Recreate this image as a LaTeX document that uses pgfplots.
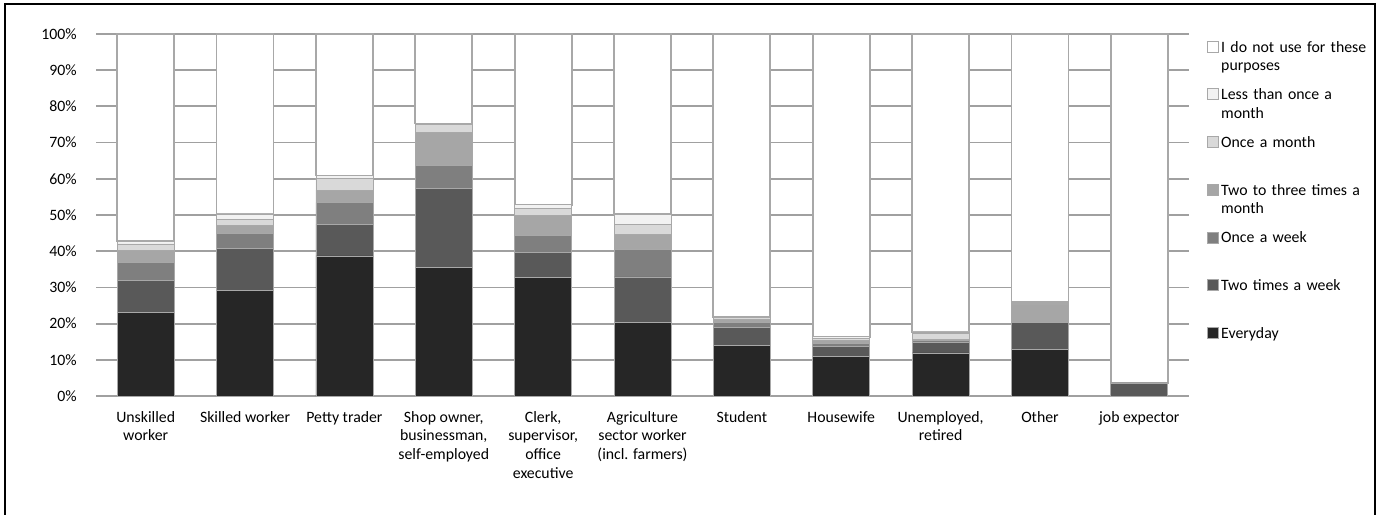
\documentclass[border=0pt]{standalone}
\usepackage{pgfplots}
\pgfplotsset{compat=1.18}
\usepackage{fontspec}
\setmainfont{Carlito}
\definecolor{cA}{HTML}{262626}
\definecolor{cB}{HTML}{595959}
\definecolor{cC}{HTML}{7F7F7F}
\definecolor{cD}{HTML}{A6A6A6}
\definecolor{cE}{HTML}{D9D9D9}
\definecolor{cF}{HTML}{F2F2F2}
\definecolor{bd}{HTML}{A8A8A8}
\definecolor{gridc}{HTML}{A0A0A0}
\newcommand\cf{\fontsize{7.9}{9.3}\selectfont}
\begin{document}
\begin{tikzpicture}
\useasboundingbox (-48pt,-59pt) rectangle (642pt,198pt);
\begin{axis}[
  at={(0pt,0pt)}, anchor=south west,
  scale only axis, width=546.5pt, height=181pt,
  ybar stacked, bar width=28.5pt,
  xmin=-0.5, xmax=10.5, ymin=0, ymax=100,
  xtick={0,1,2,3,4,5,6,7,8,9,10},
  xticklabels={{Unskilled\\worker},{Skilled worker},{Petty trader},{Shop owner,\\businessman,\\self-employed},{Clerk,\\supervisor,\\office\\executive},{Agriculture\\sector worker\\(incl. farmers)},Student,Housewife,{Unemployed,\\retired},Other,{job expector}},
  ytick={0,10,20,30,40,50,60,70,80,90,100},
  yticklabels={0\%,10\%,20\%,30\%,40\%,50\%,60\%,70\%,80\%,90\%,100\%},
  major tick length=0pt,
  axis line style={draw=none},
  ymajorgrids, major grid style={draw=gridc, line width=0.9pt},
  xticklabel style={font=\cf, align=center, anchor=north, inner sep=0pt, yshift=-7.5pt},
  yticklabel style={font=\cf, anchor=east, inner sep=0pt, xshift=-9.5pt},
  legend image code/.code={\draw[#1, line width=0.4pt] (0pt,5.925pt) rectangle (5.5pt,11.425pt);},
  reverse legend,
  legend cell align=left,
  legend style={at={(1,1)}, anchor=north west, xshift=9pt, yshift=-2.85pt,
    draw=none, fill=none, inner sep=0pt, row sep=0pt, column sep=1pt, font=\cf,
    nodes={inner sep=0pt, text width=80pt, align=left, text height=6pt, text depth=17.85pt}},
]
\addplot[fill=cA, draw=bd, line width=0.4pt] coordinates {(0,23.0) (1,29.2) (2,38.7) (3,35.5) (4,32.7) (5,20.3) (6,14.0) (7,11.0) (8,11.9) (9,12.9) (10,0)};
\addlegendentry{Everyday}
\addplot[fill=cB, draw=bd, line width=0.4pt] coordinates {(0,8.9) (1,11.6) (2,8.8) (3,21.8) (4,6.9) (5,12.6) (6,5.0) (7,2.7) (8,2.9) (9,7.3) (10,3.6)};
\addlegendentry{Two times a week}
\addplot[fill=cC, draw=bd, line width=0.4pt] coordinates {(0,5.0) (1,4.2) (2,6.0) (3,6.5) (4,4.8) (5,7.5) (6,1.4) (7,0.9) (8,0.6) (9,0) (10,0)};
\addlegendentry{Once a week}
\addplot[fill=cD, draw=bd, line width=0.4pt] coordinates {(0,3.4) (1,2.0) (2,3.4) (3,8.9) (4,5.5) (5,4.3) (6,0.7) (7,0.7) (8,0.2) (9,5.0) (10,0)};
\addlegendentry{Two to three times a\\month}
\addplot[fill=cE, draw=bd, line width=0.4pt] coordinates {(0,1.7) (1,1.8) (2,3.2) (3,2.2) (4,1.8) (5,2.6) (6,0.5) (7,0.5) (8,1.8) (9,0.4) (10,0)};
\addlegendentry{Once a month}
\addplot[fill=cF, draw=bd, line width=0.4pt] coordinates {(0,0.8) (1,1.5) (2,0.8) (3,0.4) (4,1.1) (5,2.9) (6,0.3) (7,0.6) (8,0.3) (9,0.3) (10,0)};
\addlegendentry{Less than once a\\month}
\addplot[fill=white, draw=bd, line width=0.9pt] coordinates {(0,57.2) (1,49.7) (2,39.1) (3,24.7) (4,47.2) (5,49.8) (6,78.1) (7,83.6) (8,82.3) (9,74.1) (10,96.4)};
\addlegendentry{I do not use for these\\purposes}
\end{axis}
\draw[black, line width=1pt] (-45.5pt,-70pt) -- (-45.5pt,196pt) -- (639.5pt,196pt) -- (639.5pt,-70pt);
\end{tikzpicture}
\end{document}
